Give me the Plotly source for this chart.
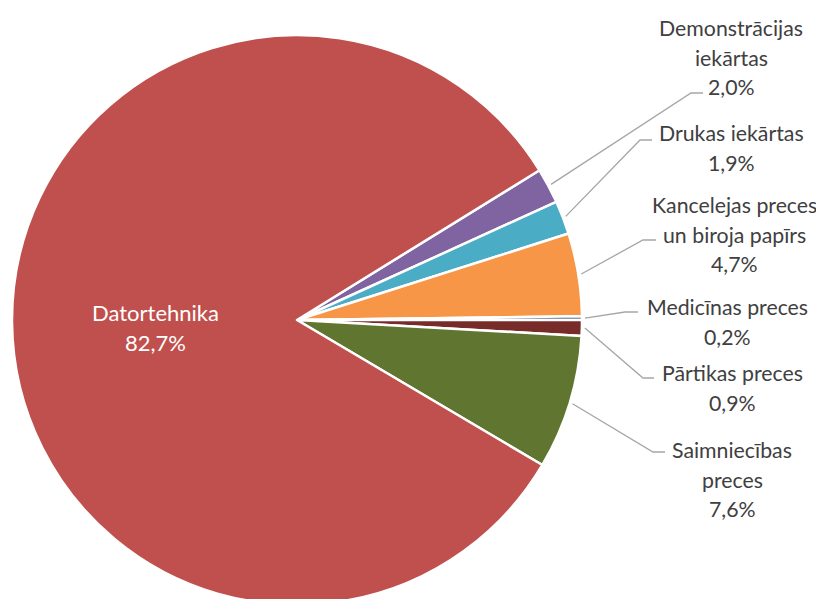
import math
import plotly.graph_objects as go

# ---- data ----
categories = ["Demonstrācijas<br>iekārtas", "Drukas iekārtas", "Kancelejas preces<br>un biroja papīrs",
              "Medicīnas preces", "Pārtikas preces", "Saimniecības<br>preces", "Datortehnika"]
values = [2.0, 1.9, 4.7, 0.2, 0.9, 7.6, 82.7]
colors = ["#8064A2", "#4BACC6", "#F79646", "#2C4D75", "#772C2A", "#5F7530", "#C0504D"]

W, H = 824, 599
OFF = 8                      # page body margin offset (screen = layout + OFF)
CX, CY, R = 297 - OFF, 320 - OFF, 285   # pie centre/radius in layout px
ROT = 58.3

# label layout (screen px): centre x, first line y, elbow point, elbow end
label_pos = [
    (731, 28, (691, 93), (703, 93)),
    (731, 133, (640, 140), (652, 140)),
    (734, 205, (643, 240), (656, 240)),
    (727, 307, (625, 312), (638, 312)),
    (732, 373, (643, 378), (654, 378)),
    (732, 450, (653, 452), (665, 452)),
]
LINE_H = 29.5
FS = 21.3

def px(x):
    return (x - OFF) / W

def py(y):
    return 1 - (y - OFF) / H

fig = go.Figure(go.Pie(
    labels=[c.replace("<br>", " ") for c in categories],
    values=values,
    sort=False,
    direction="clockwise",
    rotation=ROT,
    marker=dict(colors=colors, line=dict(color="white", width=2.5)),
    textinfo="none",
    hoverinfo="label+percent",
    showlegend=False,
    domain=dict(x=[(CX - R) / W, (CX + R) / W], y=[1 - (CY + R) / H, 1 - (CY - R) / H]),
))

annotations = []
shapes = []
total = sum(values)
cum = 0.0
font_family = "Lato, 'Open Sans', sans-serif"
for i, (cat, v) in enumerate(zip(categories, values)):
    mid = ROT + (cum + v / 2) / total * 360
    cum += v
    pct = f"{v:.1f}%".replace(".", ",")
    lines = cat.split("<br>") + [pct]
    if i == len(categories) - 1:
        # big slice: label inside
        for k, t in enumerate(lines):
            annotations.append(dict(x=px(155), y=py(312 + k * 30.5), xref="paper", yref="paper",
                                    text=t, showarrow=False, xanchor="center", yanchor="middle",
                                    font=dict(family=font_family, size=22, color="white")))
        continue
    cx, y0, elbow, end = label_pos[i]
    for k, t in enumerate(lines):
        annotations.append(dict(x=px(cx), y=py(y0 + k * LINE_H), xref="paper", yref="paper",
                                text=t, showarrow=False, xanchor="center", yanchor="middle",
                                font=dict(family=font_family, size=FS, color="#404040")))
    a = math.radians(mid)
    rs = R + 3
    sx = CX + OFF + rs * math.sin(a)
    sy = CY + OFF - rs * math.cos(a)
    path = f"M {px(sx)},{py(sy)} L {px(elbow[0])},{py(elbow[1])} L {px(end[0])},{py(end[1])}"
    shapes.append(dict(type="path", path=path, xref="paper", yref="paper",
                       line=dict(color="#A6A6A6", width=1.3)))

fig.update_layout(
    width=W, height=H,
    margin=dict(l=0, r=0, t=0, b=0),
    paper_bgcolor="white", plot_bgcolor="white",
    annotations=annotations, shapes=shapes,
)
fig.write_html("out.html")
